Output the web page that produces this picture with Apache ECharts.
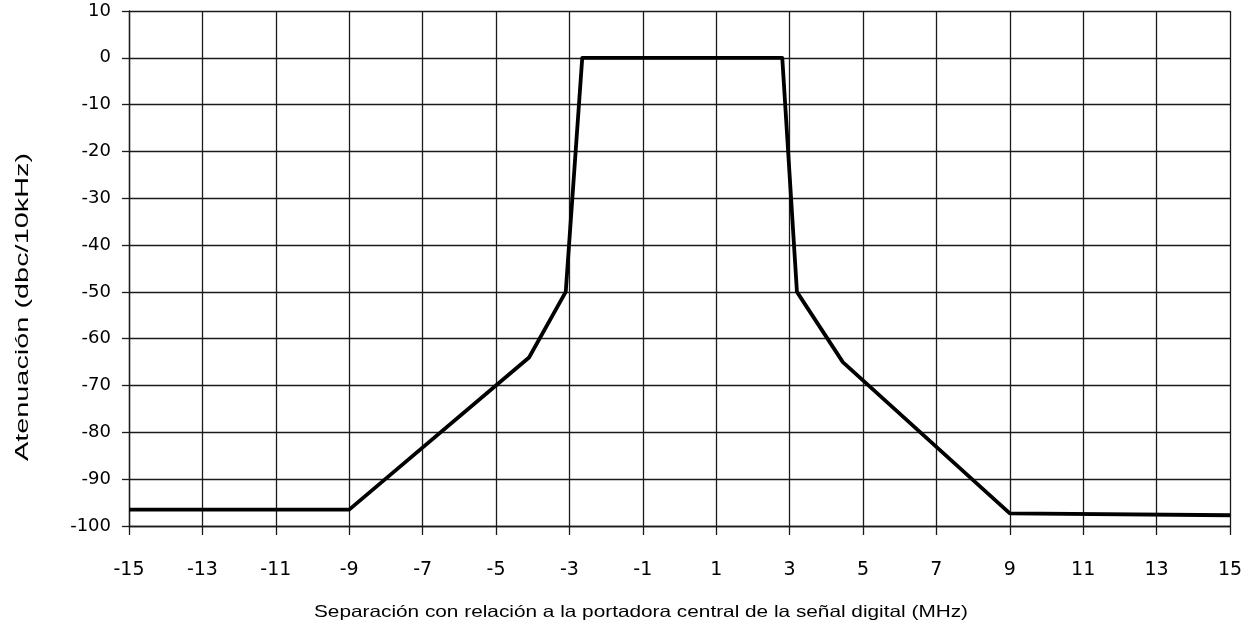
<!DOCTYPE html>
<html>
<head>
<meta charset="utf-8">
<script src="https://cdn.jsdelivr.net/npm/echarts@6/dist/echarts.min.js"></script>
<style>
  html, body { margin: 0; padding: 0; background: #fff; }
  #chart { width: 1246px; height: 633px; }
</style>
</head>
<body>
<div id="chart"></div>
<script>
// Spectral mask: frequency offset (MHz) vs attenuation (dBc/10kHz)
const offsetMHz = [-15, -9, -4.1, -3.1, -2.65, 2.8, 3.2, 4.45, 9, 15];
const attenuation = [-96.5, -96.5, -64, -50, 0, 0, -50, -65, -97.3, -97.7];
const xTicks = [-15, -13, -11, -9, -7, -5, -3, -1, 1, 3, 5, 7, 9, 11, 13, 15];

const xTitle = 'Separación con relación a la portadora central de la señal digital (MHz)';
const yTitle = 'Atenuación (dbc/10kHz)';

const TICK_FONT = '"DejaVu Sans", Verdana, sans-serif';
const TITLE_FONT = '"Liberation Sans", Arial, sans-serif';
const INK = '#1a1a1a';

const chart = echarts.init(document.getElementById('chart'), null, { renderer: 'canvas' });

chart.setOption({
  backgroundColor: '#ffffff',
  animation: false,
  grid: { left: 129, right: 16, top: 11, bottom: 107, containLabel: false },
  xAxis: {
    type: 'value',
    min: -15,
    max: 15,
    axisLine: { show: true, onZero: false, lineStyle: { color: INK, width: 1.3 } },
    axisTick: { show: true, length: 9, customValues: xTicks, lineStyle: { color: INK, width: 1.3 } },
    axisLabel: {
      customValues: xTicks,
      margin: 35,
      color: '#000',
      fontFamily: TICK_FONT,
      fontSize: 19
    },
    splitLine: { show: true, lineStyle: { color: INK, width: 1.3 } }
  },
  yAxis: {
    type: 'value',
    min: -100,
    max: 10,
    interval: 10,
    axisLine: { show: true, onZero: false, lineStyle: { color: INK, width: 1.3 } },
    axisTick: { show: true, length: 7, lineStyle: { color: INK, width: 1.3 } },
    axisLabel: {
      margin: 18,
      color: '#000',
      fontFamily: TICK_FONT,
      fontSize: 18
    },
    splitLine: { show: true, lineStyle: { color: INK, width: 1.3 } }
  },
  series: [{
    type: 'line',
    data: offsetMHz.map((x, i) => [x, attenuation[i]]),
    symbol: 'none',
    lineStyle: { color: '#000', width: 3.8, join: 'round' },
    z: 5
  }],
  graphic: [
    {
      type: 'text',
      x: 641,
      y: 612,
      scaleX: 1.26,
      style: {
        text: xTitle,
        fill: '#000',
        font: '16.5px ' + TITLE_FONT,
        textAlign: 'center',
        textVerticalAlign: 'middle'
      }
    },
    {
      type: 'text',
      x: 23,
      y: 307,
      rotation: Math.PI / 2,
      scaleX: 1.52,
      style: {
        text: yTitle,
        fill: '#000',
        font: '19px ' + TITLE_FONT,
        textAlign: 'center',
        textVerticalAlign: 'middle'
      }
    }
  ]
});
</script>
</body>
</html>
